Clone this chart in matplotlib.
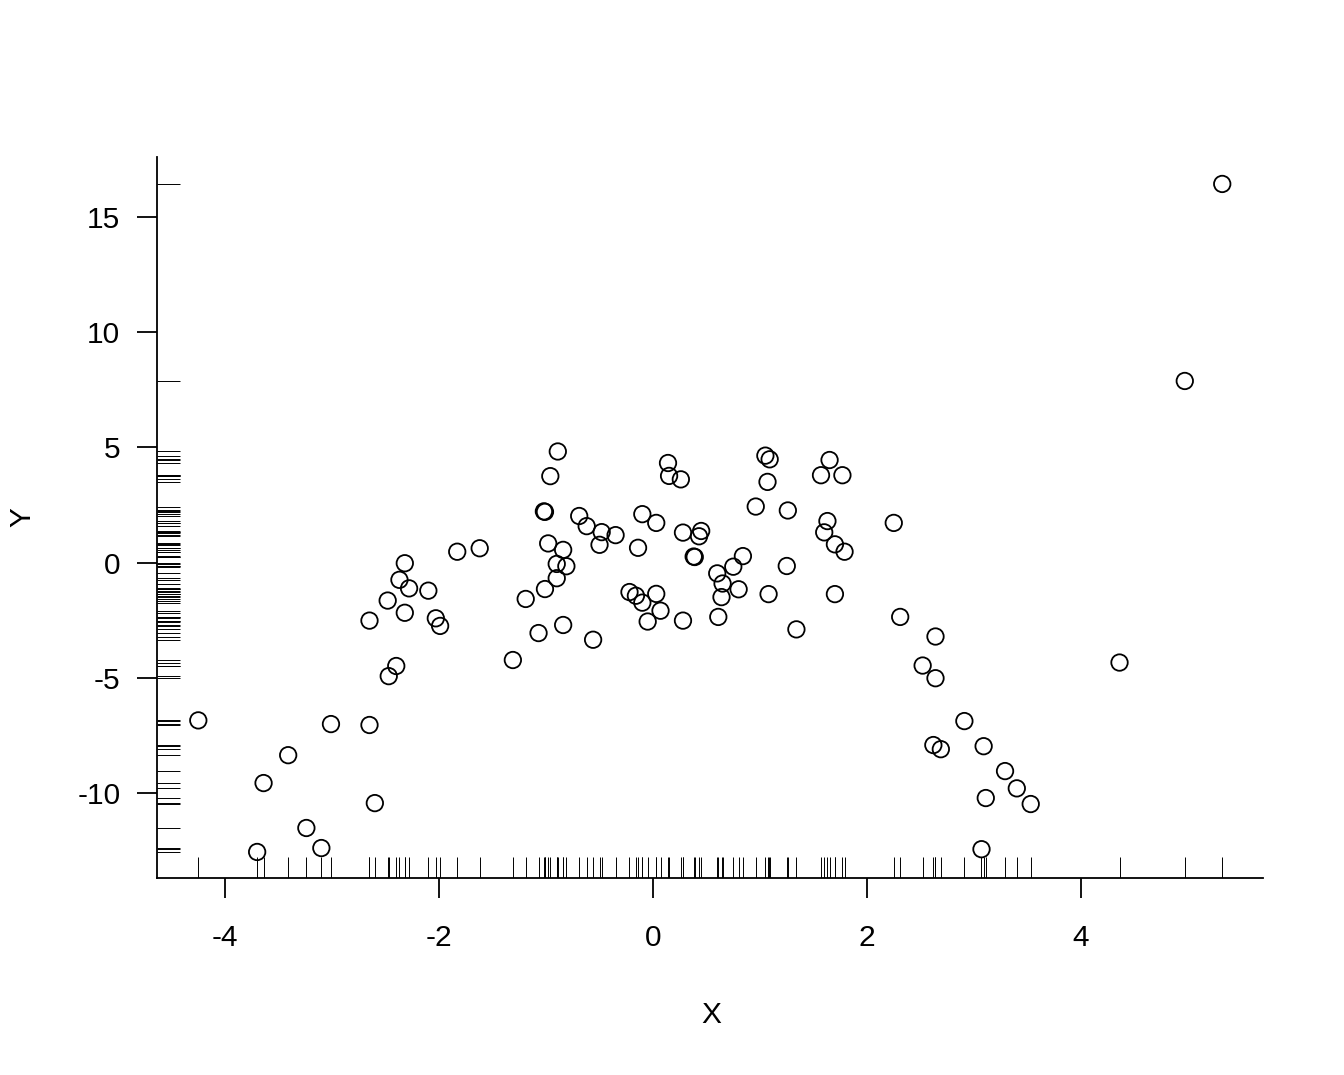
import numpy as np
import matplotlib
matplotlib.use('Agg')
import matplotlib.pyplot as plt

# values (n = 100)
x = np.array([
    -4.25, -3.70, -3.64, -3.41, -3.24, -3.10, -3.01, -2.65, -2.65, -2.60,
    -2.48, -2.47, -2.40, -2.37, -2.32, -2.32, -2.28, -2.10, -2.03, -1.99,
    -1.83, -1.62, -1.31, -1.19, -1.07, -1.02, -1.01, -1.01, -0.98, -0.96,
    -0.90, -0.89, -0.90, -0.84, -0.81, -0.84, -0.69, -0.62, -0.56, -0.50,
    -0.48, -0.35, -0.22, -0.16, -0.14, -0.10, -0.10, -0.05, 0.03, 0.03,
    0.07, 0.14, 0.15, 0.26, 0.28, 0.28, 0.38, 0.39, 0.43, 0.45,
    0.60, 0.61, 0.65, 0.64, 0.75, 0.80, 0.84, 0.96, 1.05, 1.09,
    1.07, 1.08, 1.26, 1.25, 1.34, 1.57, 1.60, 1.63, 1.65, 1.70,
    1.70, 1.77, 1.79, 2.25, 2.31, 2.52, 2.64, 2.62, 2.64, 2.69,
    2.91, 3.07, 3.09, 3.11, 3.29, 3.40, 3.53, 4.36, 4.97, 5.32])
y = np.array([
    -6.85, -12.56, -9.57, -8.36, -11.52, -12.39, -7.01, -7.05, -2.52, -10.44,
    -1.65, -4.93, -4.49, -0.75, -0.03, -2.18, -1.12, -1.22, -2.42, -2.75,
    0.47, 0.62, -4.23, -1.58, -3.06, 2.22, 2.20, -1.15, 0.83, 3.75,
    -0.06, 4.82, -0.68, 0.55, -0.16, -2.71, 2.02, 1.58, -3.35, 0.77,
    1.32, 1.19, -1.28, -1.44, 0.64, -1.74, 2.10, -2.56, 1.72, -1.36,
    -2.09, 4.32, 3.76, 3.61, -2.52, 1.30, 0.26, 0.24, 1.14, 1.37,
    -0.47, -2.36, -0.91, -1.50, -0.18, -1.16, 0.28, 2.43, 4.64, 4.48,
    3.50, -1.37, 2.26, -0.15, -2.90, 3.79, 1.31, 1.80, 4.45, 0.79,
    -1.37, 3.79, 0.47, 1.72, -2.36, -4.47, -3.21, -7.92, -5.02, -8.10,
    -6.88, -12.44, -7.97, -10.22, -9.05, -9.80, -10.48, -4.34, 7.88, 16.43])

xticks = [-4, -2, 0, 2, 4]
yticks = [-10, -5, 0, 5, 10, 15]

plt.rcParams['font.family'] = ['Liberation Sans', 'DejaVu Sans']
plt.rcParams['axes.unicode_minus'] = False

fig = plt.figure(figsize=(13.44, 10.75), dpi=100)
ax = fig.add_axes([157/1344, 1 - 878/1075, (1263-157)/1344, (878-157)/1075])

ax.scatter(x, y, s=140, facecolors='none', edgecolors='black', linewidths=1.3, zorder=3)

# rugs along both axes
ax.vlines(x, 0, 0.029, transform=ax.get_xaxis_transform(), colors='black', linewidth=0.7)
ax.hlines(y, 0, 0.0208, transform=ax.get_yaxis_transform(), colors='black', linewidth=0.7)

ax.set_xlim(-4.636, 5.701)
ax.set_ylim(-13.69, 17.60)
ax.set_xticks(xticks)
ax.set_yticks(yticks)
ax.set_xticklabels([str(v) for v in xticks])
ax.set_yticklabels([str(v) for v in yticks])

for s in ['top', 'right']:
    ax.spines[s].set_visible(False)
for s in ['left', 'bottom']:
    ax.spines[s].set_linewidth(1.3)

ax.tick_params(axis='both', direction='out', length=14.4, width=1.3, labelsize=21.5)
ax.tick_params(axis='x', pad=19)
ax.tick_params(axis='y', pad=12)

ax.set_xlabel('X', fontsize=21.5, va='center')
ax.xaxis.set_label_coords(0.5012, (878 - 1015) / 721)
ax.set_ylabel('Y', fontsize=21.5, va='center')
ax.yaxis.set_label_coords((22 - 157) / 1106, 0.5)

fig.savefig('out.png', dpi=100)
